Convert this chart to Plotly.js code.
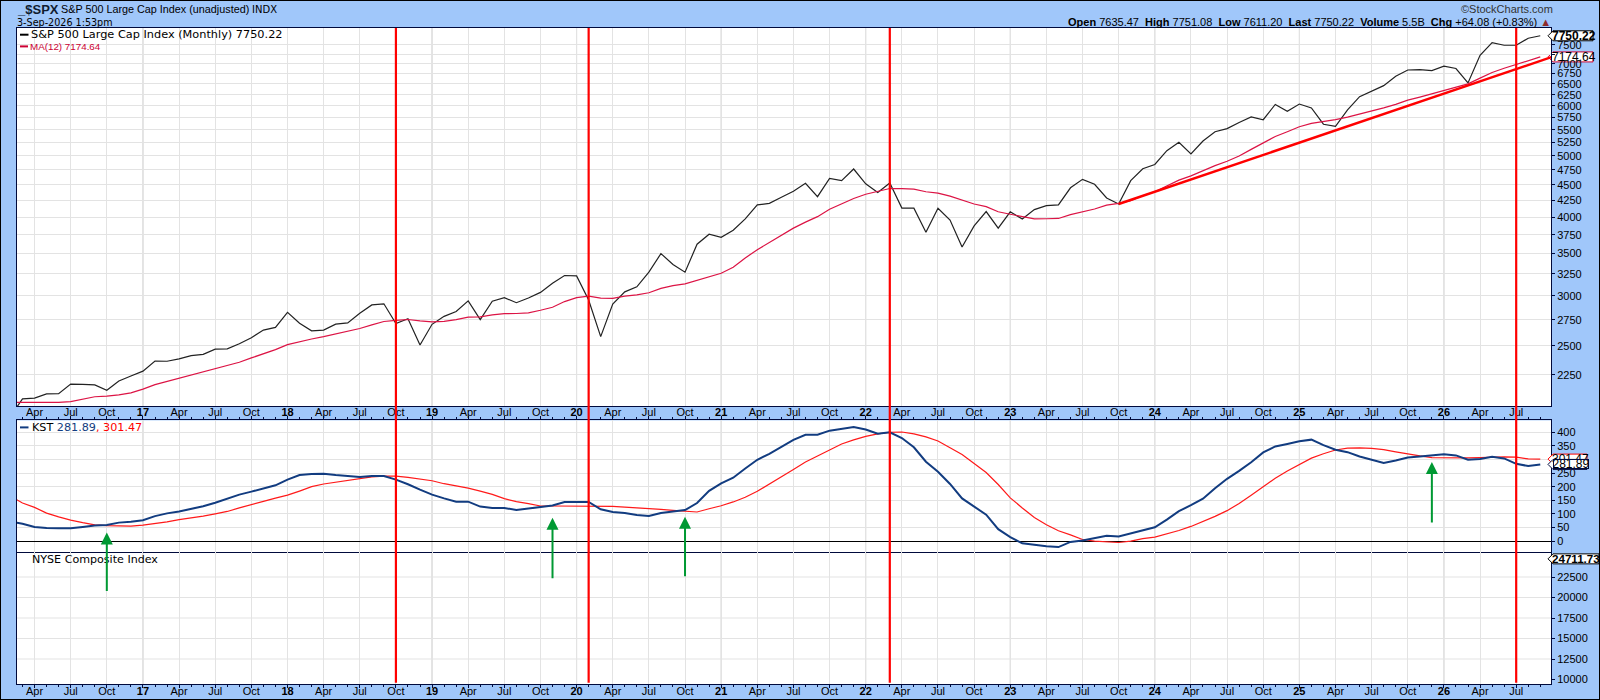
<!DOCTYPE html>
<html>
<head>
<meta charset="utf-8">
<title>$SPX</title>
<script src="https://cdn.plot.ly/plotly-3.0.1.min.js"></script>
<style>
	html, body { margin: 0; padding: 0; background: #a0c7fa; }
	#frame { position: relative; width: 1600px; height: 700px; }
	#frame::after { content: ""; position: absolute; inset: 0; border: 1px solid #000; box-sizing: border-box; pointer-events: none; }
	#graph-0 { width: 1600px; height: 700px; }
</style>
</head>
<body>
<div id="frame"><div id="graph-0"></div></div>
<script>
/* global Plotly */

// monthly closes, Feb 2016 .. Sep 2026
const closes = [
	1932, 2060, 2065, 2097, 2099, 2174, 2171, 2168, 2126, 2199, 2239,
	2279, 2364, 2363, 2384, 2412, 2423, 2470, 2472, 2519, 2575, 2648, 2674,
	2824, 2714, 2641, 2648, 2705, 2718, 2816, 2902, 2914, 2712, 2760, 2507,
	2704, 2784, 2834, 2946, 2751, 2942, 2980, 2926, 2977, 3038, 3141, 3231,
	3226, 2954, 2585, 2912, 3044, 3100, 3271, 3500, 3363, 3270, 3622, 3756,
	3714, 3811, 3973, 4181, 4204, 4298, 4395, 4523, 4308, 4605, 4567, 4766,
	4516, 4374, 4530, 4132, 4132, 3785, 4130, 3955, 3586, 3872, 4080, 3840,
	4077, 3970, 4109, 4169, 4180, 4450, 4589, 4508, 4288, 4194, 4568, 4770,
	4846, 5096, 5254, 5036, 5278, 5460, 5522, 5648, 5762, 5705, 6032, 5882,
	6041, 5955, 5612, 5569, 5912, 6205, 6339, 6460, 6688, 6840, 6849, 6827,
	6935, 6877, 6526, 7219, 7560, 7486, 7486, 7680, 7750.22,
];

const ma12 = [
	2033, 2032, 2031, 2030, 2033, 2039, 2055, 2076, 2080, 2090, 2106,
	2134, 2170, 2195, 2222, 2248, 2275, 2300, 2325, 2354, 2392, 2429, 2465,
	2511, 2540, 2563, 2585, 2609, 2634, 2663, 2699, 2732, 2743, 2752, 2738,
	2728, 2734, 2750, 2775, 2779, 2798, 2811, 2813, 2819, 2846, 2878, 2938,
	2981, 2996, 2975, 2972, 2996, 3010, 3034, 3082, 3114, 3133, 3173, 3217,
	3258, 3329, 3445, 3550, 3647, 3747, 3841, 3926, 4005, 4116, 4195, 4279,
	4346, 4393, 4439, 4435, 4429, 4386, 4364, 4317, 4257, 4195, 4155, 4078,
	4041, 4007, 3972, 3975, 3979, 4035, 4073, 4119, 4178, 4205, 4245, 4323,
	4387, 4481, 4576, 4648, 4740, 4824, 4902, 4997, 5120, 5245, 5367, 5460,
	5560, 5631, 5661, 5706, 5758, 5820, 5889, 5956, 6033, 6128, 6196, 6275,
	6349, 6426, 6502, 6640, 6777, 6884, 6979, 7081, 7174.64,
];

const kst = [
	72, 64, 52, 48, 47, 47, 52, 57, 59, 68, 71,
	77, 92, 102, 109, 119, 128, 141, 156, 171, 182, 194, 205,
	226, 243, 247, 248, 243, 239, 236, 239, 239, 226, 209, 189,
	171, 157, 145, 145, 127, 122, 122, 114, 119, 124, 131, 144,
	144, 144, 117, 107, 103, 96, 92, 103, 109, 114, 140, 185,
	212, 233, 267, 299, 321, 347, 372, 391, 391, 406, 413, 419,
	410, 395, 400, 379, 345, 292, 255, 210, 157, 128, 97, 44,
	15, -8, -14, -19, -22, -3, 2, 10, 20, 17, 28, 39,
	51, 79, 110, 132, 156, 194, 229, 258, 290, 326, 348, 357,
	367, 373, 353, 336, 327, 311, 300, 287, 296, 307, 311, 315,
	319, 315, 299, 302, 310, 304, 284, 276, 281.89,
];

const kstSignal = [
	165, 140, 124, 103, 89, 77, 68, 60, 57, 55, 55,
	59, 64, 71, 79, 85, 92, 100, 109, 122, 135, 146, 158,
	169, 184, 200, 210, 217, 223, 231, 236, 239, 239, 234, 228,
	222, 211, 204, 195, 184, 172, 156, 145, 138, 129, 129, 129,
	129, 129, 128, 128, 125, 123, 120, 117, 113, 109, 107, 119,
	130, 144, 161, 183, 209, 234, 263, 291, 314, 336, 357, 372,
	385, 394, 400, 401, 394, 383, 368, 343, 318, 285, 252, 208,
	159, 122, 87, 60, 38, 23, 6, 0, -3, -5, 0, 9,
	15, 26, 39, 54, 72, 91, 112, 138, 169, 200, 231, 258,
	282, 305, 321, 335, 342, 343, 341, 336, 328, 320, 313, 307,
	306, 306, 306, 307, 309, 310, 309, 302, 301.47,
];

const monthTickLabels = [
	"Apr", "Jul", "Oct",
	"<b>17</b>", "Apr", "Jul", "Oct",
	"<b>18</b>", "Apr", "Jul", "Oct",
	"<b>19</b>", "Apr", "Jul", "Oct",
	"<b>20</b>", "Apr", "Jul", "Oct",
	"<b>21</b>", "Apr", "Jul", "Oct",
	"<b>22</b>", "Apr", "Jul", "Oct",
	"<b>23</b>", "Apr", "Jul", "Oct",
	"<b>24</b>", "Apr", "Jul", "Oct",
	"<b>25</b>", "Apr", "Jul", "Oct",
	"<b>26</b>", "Apr", "Jul",
];

const priceTicks = [
	2250, 2500, 2750, 3000, 3250, 3500, 3750, 4000, 4250, 4500, 4750, 5000,
	5250, 5500, 5750, 6000, 6250, 6500, 6750, 7000, 7250, 7500,
];
const kstTicks = [0, 50, 100, 150, 200, 250, 300, 350, 400];
const nyseTicks = [10000, 12500, 15000, 17500, 20000, 22500];
const nyseGridTicks = [12500, 15000, 17500, 20000, 22500];
const nyseLast = [24711.73];

// months are counted from Feb 2016 = 0
const redLineMonths = [32, 48, 73, 125];
const arrowMonths = [8, 45, 56, 118];
const arrowTips = [32, 86, 90, 291];
const arrowLengths = [60, 62, 61, 62];
const trendMonths = [92, 129.2];
const trendValues = [4195, 7306];

const months = closes.map((_, i) => i);
const monthTicks = monthTickLabels.map((_, i) => 2 + 3 * i);
const yearTicks = monthTicks.filter((_, i) => monthTickLabels[i].startsWith("<b>"));

const PLOT_L = 16.5;
const PLOT_R = 1551;
const PLOT_T = 28.3;
const PLOT_B = 684.3;
const PLOT_W = PLOT_R - PLOT_L;
const PLOT_H = PLOT_B - PLOT_T;
const X_RANGE = [0.544, 127.89];

const paperX = px => (px - PLOT_L) / PLOT_W;
const paperY = py => (PLOT_B - py) / PLOT_H;

const DOMAIN_1 = [paperY(406.7), 1];
const DOMAIN_2 = [paperY(552.3), paperY(420.7)];
const DOMAIN_3 = [0, paperY(552.3)];

const BAND = "#a0c7fa";
const EDGE = "#000a3c";
const GRID = "#e3e3e3";
const YEAR_GRID = "#c4c4c4";
const FONT = "Liberation Sans, Arial, sans-serif";
const WIDE_FONT = "DejaVu Sans, Verdana, sans-serif";

function note(text, x, y, size, color, family, extra) {
	return {
		text,
		xref: "paper",
		yref: "paper",
		x: paperX(x),
		y: paperY(y),
		xanchor: "left",
		yanchor: "middle",
		showarrow: false,
		borderpad: 0,
		borderwidth: 0,
		font: { size, color, family },
		...extra,
	};
}

function valueTag(value, yref, bold, size, extra) {
	return {
		text: bold ? `<b>${value}</b>` : `${value}`,
		xref: "paper",
		yref,
		x: 1,
		xshift: 1,
		y: yref === "y" ? Math.log10(value) : value,
		xanchor: "left",
		yanchor: "middle",
		showarrow: false,
		borderpad: 0,
		borderwidth: 0,
		font: { size, color: "#000", family: FONT },
		...extra,
	};
}

function tagShape(value, yref, color, width, layer) {
	return {
		type: "path",
		xref: "paper",
		yref,
		xsizemode: "pixel",
		ysizemode: "pixel",
		xanchor: 1,
		yanchor: value,
		path: `M -3 0 L 2 -5 H ${width} V 5 H 2 Z`,
		fillcolor: "#fff",
		line: { color, width: 1 },
		layer,
	};
}

function xAxis(extra) {
	return {
		range: X_RANGE,
		tickmode: "array",
		tickvals: monthTicks,
		ticktext: monthTickLabels,
		gridcolor: GRID,
		gridwidth: 1,
		showline: true,
		mirror: true,
		linecolor: EDGE,
		linewidth: 1,
		zeroline: false,
		tickfont: { size: 11, color: "#000", family: FONT },
		...extra,
	};
}

function yAxis(extra) {
	return {
		side: "right",
		tickmode: "array",
		ticks: "outside",
		ticklen: 3,
		tickwidth: 1,
		tickcolor: EDGE,
		gridcolor: GRID,
		gridwidth: 1,
		showline: true,
		mirror: true,
		linecolor: EDGE,
		linewidth: 1,
		zeroline: false,
		tickfont: { size: 11, color: "#000", family: FONT },
		...extra,
	};
}

const traces = [
	{
		x: months, y: closes, type: "scatter", mode: "lines",
		line: { color: "#222", width: 1.2 }, xaxis: "x", yaxis: "y",
	},
	{
		x: months, y: ma12, type: "scatter", mode: "lines",
		line: { color: "#dc1445", width: 1.2 }, xaxis: "x", yaxis: "y",
	},
	{
		x: trendMonths, y: trendValues, type: "scatter", mode: "lines",
		line: { color: "#ff0000", width: 2.5 }, xaxis: "x", yaxis: "y", cliponaxis: false,
	},
	{
		x: months, y: kstSignal, type: "scatter", mode: "lines",
		line: { color: "#ff1a1a", width: 1.2 }, xaxis: "x2", yaxis: "y2",
	},
	{
		x: months, y: kst, type: "scatter", mode: "lines",
		line: { color: "#123c80", width: 2 }, xaxis: "x2", yaxis: "y2",
	},
	{
		x: [months[months.length - 1]], y: nyseLast, type: "scatter", mode: "lines",
		line: { color: "#000", width: 1 }, xaxis: "x3", yaxis: "y3",
	},
];

const shapes = [];
for (const domain of [DOMAIN_1, DOMAIN_2, DOMAIN_3]) {
	for (const m of yearTicks) {
		shapes.push({
			type: "line", xref: "x", yref: "paper", x0: m, x1: m, y0: domain[0], y1: domain[1],
			line: { color: YEAR_GRID, width: 1 }, layer: "below",
		});
	}
}
for (const v of nyseGridTicks) {
	shapes.push({
		type: "line", xref: "paper", yref: "y3", x0: 0, x1: 1, y0: v, y1: v,
		line: { color: GRID, width: 1 }, layer: "below",
	});
}
for (const m of redLineMonths) {
	shapes.push({
		type: "line", xref: "x", yref: "paper", x0: m, x1: m, y0: paperY(683), y1: 1,
		line: { color: "#ff0000", width: 2.2 }, layer: "above",
	});
}
shapes.push(tagShape(ma12[ma12.length - 1], "y", "#cc0033", 42, "below"));
shapes.push(tagShape(closes[closes.length - 1], "y", "#000", 42, "above"));
shapes.push(tagShape(kstSignal[kstSignal.length - 1], "y2", "#ff0000", 36, "above"));
shapes.push(tagShape(kst[kst.length - 1], "y2", EDGE, 36, "above"));
shapes.push(tagShape(nyseLast[0], "y3", "#000", 48, "above"));
// legend dashes
shapes.push({ type: "line", xref: "paper", yref: "paper", x0: paperX(19.5), x1: paperX(28), y0: paperY(35), y1: paperY(35), line: { color: "#000", width: 2 } });
shapes.push({ type: "line", xref: "paper", yref: "paper", x0: paperX(19.5), x1: paperX(27.5), y0: paperY(46.7), y1: paperY(46.7), line: { color: "#cc0033", width: 2 } });
shapes.push({ type: "line", xref: "paper", yref: "paper", x0: paperX(19.5), x1: paperX(28), y0: paperY(427.7), y1: paperY(427.7), line: { color: "#123c80", width: 2 } });

const annotations = [
	note("<b>_$SPX</b>", 16, 9.5, 13, "#101c30", FONT),
	note("S&P 500 Large Cap Index (unadjusted)", 61, 9.5, 10.8, "#000", FONT),
	note("INDX", 252, 9.5, 10, "#000", WIDE_FONT),
	note("3-Sep-2026 1:53pm", 16, 22.5, 9.6, "#000", WIDE_FONT),
	note("©StockCharts.com", 1461, 9.5, 11, "#333", FONT),
	note(
		"<b>Open</b> 7635.47  <b>High</b> 7751.08  <b>Low</b> 7611.20  <b>Last</b> 7750.22  <b>Volume</b> 5.5B  <b>Chg</b> +64.08 (+0.83%) <span style=\"color:#8f2b2b\">▲</span>",
		1551, 22.5, 11, "#000", FONT, { xanchor: "right" },
	),
	note("S&P 500 Large Cap Index (Monthly) 7750.22", 31, 35, 11.3, "#000", WIDE_FONT),
	note("MA(12) 7174.64", 29.5, 46.7, 9.8, "#cc0033", FONT),
	note(
		"KST <span style=\"color:#123c80\">281.89</span><span style=\"color:#ff0000\">, 301.47</span>",
		31.5, 427.7, 11.2, "#000", WIDE_FONT,
	),
	note("NYSE Composite Index", 31.5, 560, 11.1, "#000", WIDE_FONT),
	valueTag(ma12[ma12.length - 1], "y", false, 12),
	valueTag(closes[closes.length - 1], "y", true, 12),
	valueTag(kstSignal[kstSignal.length - 1], "y2", false, 12),
	// this tag sits on top of the signal tag, its box hides half of that text
	valueTag(kst[kst.length - 1], "y2", false, 12, {
		bgcolor: "#fff", bordercolor: EDGE, borderwidth: 1, width: 34, height: 8, xshift: 2,
	}),
	valueTag(nyseLast[0], "y3", true, 11.6),
];

arrowMonths.forEach((m, i) => {
	annotations.push({
		x: m,
		y: arrowTips[i],
		xref: "x2",
		yref: "y2",
		text: "",
		showarrow: true,
		arrowhead: 2,
		arrowsize: 1.2,
		arrowwidth: 2,
		arrowcolor: "#009933",
		ax: 0,
		ay: arrowLengths[i],
	});
});

const layout = {
	width: 1600,
	height: 700,
	showlegend: false,
	paper_bgcolor: BAND,
	plot_bgcolor: "#fff",
	margin: { l: PLOT_L, r: 1600 - PLOT_R, t: PLOT_T, b: 700 - PLOT_B, pad: 0 },
	xaxis: xAxis({ domain: [0, 1], anchor: "y", ticks: "", ticklen: 0, ticklabelstandoff: -5 }),
	xaxis2: xAxis({
		domain: [0, 1], anchor: "y2", side: "top", showticklabels: false,
		ticks: "outside", ticklen: 3, tickcolor: EDGE,
		minor: { dtick: 1, ticks: "outside", ticklen: 2, tickcolor: EDGE, showgrid: false },
	}),
	xaxis3: xAxis({
		domain: [0, 1], anchor: "y3", ticks: "outside", ticklen: 3, tickcolor: EDGE,
		mirror: false, ticklabelstandoff: -6,
		minor: { dtick: 1, ticks: "outside", ticklen: 2, tickcolor: EDGE, showgrid: false },
	}),
	yaxis: yAxis({
		domain: DOMAIN_1, anchor: "x", type: "log",
		range: [Math.log10(2004), Math.log10(7973)],
		tickvals: priceTicks,
		// the 7250 and 300 labels lie under the value tags
		ticktext: priceTicks.map(v => (v === 7250 ? "" : String(v))),
	}),
	yaxis2: yAxis({
		domain: DOMAIN_2, anchor: "x2",
		range: [-40, 443.7],
		tickvals: kstTicks,
		ticktext: kstTicks.map(v => (v === 300 ? "" : String(v))),
		zeroline: true,
		zerolinecolor: "#000",
		zerolinewidth: 1,
	}),
	yaxis3: yAxis({
		domain: DOMAIN_3, anchor: "x3",
		range: [9451, 25549],
		tickvals: nyseTicks,
		ticktext: nyseTicks.map(String),
		showgrid: false,
	}),
	shapes,
	annotations,
};

Plotly.newPlot("graph-0", traces, layout, { displayModeBar: false, staticPlot: true });
</script>
</body>
</html>
